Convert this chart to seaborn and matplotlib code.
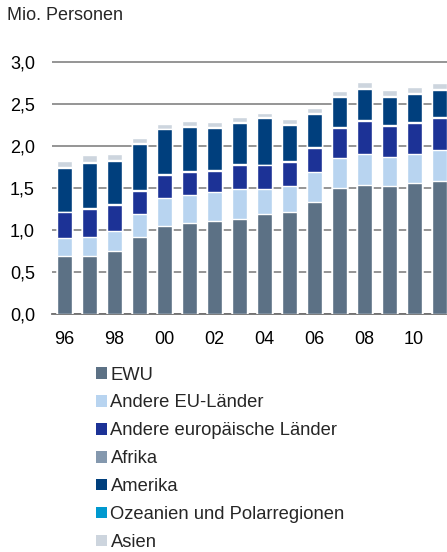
import numpy as np
import pandas as pd
import matplotlib
matplotlib.use("Agg")
import matplotlib.pyplot as plt
from matplotlib.patches import Patch
import seaborn as sns

years = ["96", "97", "98", "99", "00", "01", "02", "03", "04", "05", "06", "07", "08", "09", "10", "11"]
ewu = [0.69, 0.69, 0.75, 0.92, 1.05, 1.08, 1.11, 1.13, 1.19, 1.22, 1.34, 1.50, 1.54, 1.53, 1.56, 1.59]
andere_eu = [0.22, 0.23, 0.24, 0.27, 0.33, 0.34, 0.34, 0.36, 0.30, 0.30, 0.35, 0.36, 0.37, 0.34, 0.35, 0.36]
andere_europa = [0.30, 0.33, 0.31, 0.28, 0.28, 0.27, 0.26, 0.29, 0.28, 0.29, 0.29, 0.36, 0.39, 0.37, 0.37, 0.39]
afrika = [0.01, 0.01, 0.01, 0.01, 0.01, 0.01, 0.01, 0.01, 0.01, 0.01, 0.01, 0.01, 0.01, 0.01, 0.01, 0.01]
amerika = [0.52, 0.54, 0.51, 0.55, 0.53, 0.53, 0.50, 0.49, 0.56, 0.43, 0.39, 0.36, 0.37, 0.34, 0.33, 0.32]
ozeanien = [0.01, 0.01, 0.01, 0.01, 0.01, 0.01, 0.01, 0.01, 0.01, 0.01, 0.01, 0.01, 0.01, 0.01, 0.01, 0.01]
asien = [0.07, 0.08, 0.08, 0.06, 0.06, 0.06, 0.06, 0.06, 0.05, 0.06, 0.06, 0.06, 0.07, 0.07, 0.07, 0.07]

labels = ["EWU", "Andere EU-Länder", "Andere europäische Länder", "Afrika",
          "Amerika", "Ozeanien und Polarregionen", "Asien"]
series = [ewu, andere_eu, andere_europa, afrika, amerika, ozeanien, asien]
colors = ["#5C7185", "#B8D4F0", "#1C3296", "#8498AE", "#003F7D", "#0099CF", "#CDD5DE"]

sns.set_theme(style="white")
plt.rcParams["font.family"] = ["Liberation Sans", "DejaVu Sans"]

fig = plt.figure(figsize=(4.47, 5.52), dpi=100)
ax = fig.add_axes([52 / 447, 1 - 314 / 552, 1 - 52 / 447, (314 - 58.1) / 552])

cum = np.cumsum(np.array(series), axis=0)
df = pd.DataFrame({"year": years})
for i in range(len(series) - 1, -1, -1):
    df["v"] = cum[i]
    sns.barplot(data=df, x="year", y="v", order=years, color=colors[i],
                saturation=1, width=0.6, ax=ax, zorder=3)

ax.set_xlim(-0.51, 15.32)
ax.set_ylim(0, 3.05)
ax.set_yticks([0, 0.5, 1.0, 1.5, 2.0, 2.5, 3.0])
ax.set_yticklabels([f"{v:.1f}".replace(".", ",") for v in [0, 0.5, 1.0, 1.5, 2.0, 2.5, 3.0]])
ax.set_xticks(range(0, 16, 2))
ax.set_xticklabels(years[::2])
ax.tick_params(axis="both", length=0, labelsize=13, colors="#000000")
ax.tick_params(axis="x", pad=12.5)
ax.tick_params(axis="y", pad=12.3)
ax.set_xlabel("")
ax.set_ylabel("")
ax.yaxis.grid(True, color="#8C8C8C", linewidth=1.3, zorder=0)
ax.set_axisbelow(True)
for s in ["top", "right", "left"]:
    ax.spines[s].set_visible(False)
ax.spines["bottom"].set_color("#707070")
ax.spines["bottom"].set_linewidth(1.3)

fig.text(7 / 447, 1 - 15 / 552, "Mio. Personen", fontsize=13, va="center", ha="left")

handles = [Patch(facecolor=c, edgecolor="none") for c in colors]
fig.legend(handles, labels, loc="upper left", bbox_to_anchor=(96 / 447, 1 - 366.5 / 552),
           frameon=False, fontsize=13.2, handlelength=0.6, handleheight=0.6,
           handletextpad=0.19, labelspacing=0.595, borderaxespad=0, borderpad=0)

fig.savefig("out.png", dpi=100)
